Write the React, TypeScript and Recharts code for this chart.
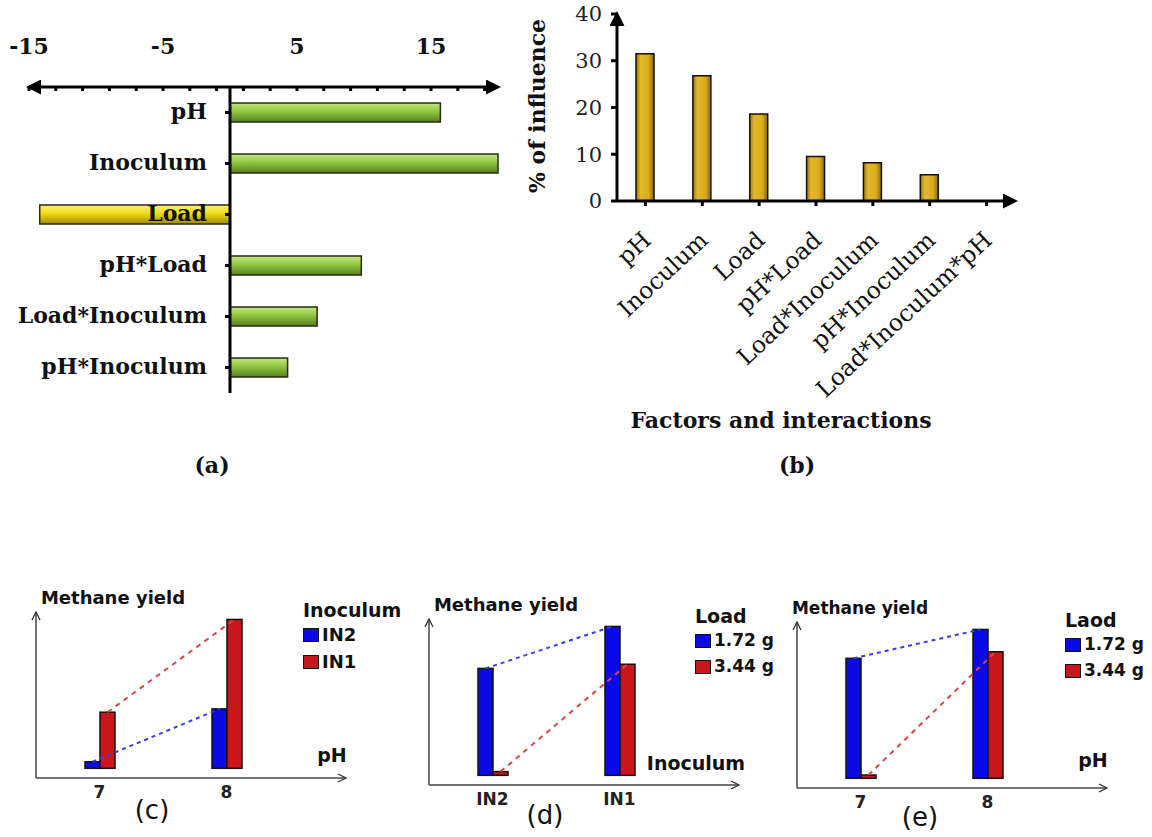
import { useRef } from "react";
import {
  BarChart,
  ComposedChart,
  Bar,
  Cell,
  XAxis,
  YAxis,
  ReferenceLine,
  LabelList,
} from "recharts";

// (a) effects of factors
const effectFactors = ["pH", "Inoculum", "Load", "pH*Load", "Load*Inoculum", "pH*Inoculum"];
const effectValues = [15.7, 20, -14.2, 9.8, 6.5, 4.3];
const effectTicks = [-15, -13, -11, -9, -7, -5, -3, -1, 1, 3, 5, 7, 9, 11, 13, 15, 17, 19];
const effectTickLabels = [-15, -5, 5, 15];

// (b) % of influence
const influenceFactors = ["pH", "Inoculum", "Load", "pH*Load", "Load*Inoculum", "pH*Inoculum", "Load*Inoculum*pH"];
const influenceValues = [31.5, 26.8, 18.6, 9.5, 8.2, 5.6, 0];
const influenceTicks = [0, 10, 20, 30, 40];

// (c)-(e) interaction plots (relative methane yield)
const phLevels = ["7", "8"];
const inoculumLevels = ["IN2", "IN1"];
const phIN2 = [4.4, 39.9];
const phIN1 = [37.7, 100];
const inocLoad172 = [71.8, 100];
const inocLoad344 = [2.5, 74.6];
const phLoad172 = [80.6, 100];
const phLoad344 = [2.2, 85];

const SERIF = "'DejaVu Serif', serif";
const SANS = "'DejaVu Sans', sans-serif";
const BLUE = "#0a0ae6";
const RED = "#c8171b";

const effectData = effectFactors.map((name, i) => ({ name, effect: effectValues[i] }));
const influenceData = influenceFactors.map((name, i) => ({ name, influence: influenceValues[i] }));

function Defs() {
  return (
    <svg width={0} height={0} style={{ position: "absolute" }}>
      <defs>
        <linearGradient id="greenBar" x1="0" y1="0" x2="0" y2="1">
          <stop offset="0%" stopColor="#c4e882" />
          <stop offset="40%" stopColor="#96cb45" />
          <stop offset="100%" stopColor="#55801c" />
        </linearGradient>
        <linearGradient id="yellowBar" x1="0" y1="0" x2="0" y2="1">
          <stop offset="0%" stopColor="#fff37a" />
          <stop offset="45%" stopColor="#f0da14" />
          <stop offset="100%" stopColor="#a08a0c" />
        </linearGradient>
        <linearGradient id="goldBar" x1="0" y1="0" x2="1" y2="0">
          <stop offset="0%" stopColor="#9a740e" />
          <stop offset="25%" stopColor="#e2b82a" />
          <stop offset="70%" stopColor="#d9ac20" />
          <stop offset="100%" stopColor="#8c680c" />
        </linearGradient>
        <marker id="arrowFill" viewBox="0 0 10 10" refX="8" refY="5" markerWidth="5" markerHeight="5" orient="auto-start-reverse">
          <path d="M0,0 L10,5 L0,10 z" fill="#000" />
        </marker>
        <marker id="arrowOpen" viewBox="0 0 10 10" refX="9" refY="5" markerWidth="10" markerHeight="10" markerUnits="userSpaceOnUse" orient="auto-start-reverse">
          <path d="M1,1 L9,5 L1,9" fill="none" stroke="#333" strokeWidth="1.3" />
        </marker>
      </defs>
    </svg>
  );
}

function Txt({ x, y, size, bold, family, rotate, children }: any) {
  return (
    <div
      style={{
        position: "absolute",
        left: x,
        top: y,
        transform: `translate(-50%, -50%)${rotate ? ` rotate(${rotate}deg)` : ""}`,
        fontSize: size,
        fontWeight: bold ? 700 : 400,
        fontFamily: family,
        color: "#111",
        whiteSpace: "nowrap",
        lineHeight: 1,
      }}
    >
      {children}
    </div>
  );
}

const EffectTick = ({ x, y, payload }: any) => (
  <g>
    <line x1={x} x2={x} y1={y + 33} y2={y + 37} stroke="#000" strokeWidth={3} />
    {effectTickLabels.includes(payload.value) && (
      <text x={x} y={y} textAnchor="middle" fontSize={22} fontWeight={700} fontFamily={SERIF} fill="#111">
        {payload.value}
      </text>
    )}
  </g>
);

const FactorLabel = (props: any) => {
  const vb = props.viewBox ?? props;
  const idx = props.index ?? 0;
  const x0 = Math.min(vb.x, vb.x + vb.width);
  const x1 = Math.max(vb.x, vb.x + vb.width);
  const zeroX = effectValues[idx] >= 0 ? x0 : x1;
  const cy = vb.y + vb.height / 2;
  return (
    <g>
      <line x1={zeroX - 5} x2={zeroX} y1={cy} y2={cy} stroke="#000" strokeWidth={3} />
      <text x={zeroX - 23} y={cy} dy="0.3em" textAnchor="end" fontSize={22} fontWeight={700} fontFamily={SERIF} fill="#111">
        {effectFactors[idx]}
      </text>
    </g>
  );
};

const InfluenceTick = ({ x, y, payload }: any) => (
  <text
    x={x + 7}
    y={y + 34}
    transform={`rotate(-43, ${x + 7}, ${y + 34})`}
    textAnchor="end"
    fontSize={23.5}
    fontFamily={SERIF}
    fill="#111"
  >
    {payload.value}
  </text>
);

function InteractionPanel({ left, top, width, margin, levels, blue, red }: any) {
  const tops = useRef<{ blue: any[]; red: any[] }>({ blue: [], red: [] });
  const data = levels.map((level: string, i: number) => ({ level, blue: blue[i], red: red[i] }));
  const last = levels.length - 1;

  const blueShape = (p: any) => {
    tops.current.blue[p.index] = { x: p.x + p.width / 2, y: p.y };
    return <rect x={p.x} y={p.y} width={p.width} height={p.height} fill={BLUE} stroke="#111" strokeWidth={1.5} />;
  };
  const redShape = (p: any) => {
    tops.current.red[p.index] = { x: p.x + p.width / 2, y: p.y };
    const b = tops.current.blue;
    const r = tops.current.red;
    return (
      <g>
        <rect x={p.x} y={p.y} width={p.width} height={p.height} fill={RED} stroke="#111" strokeWidth={1.5} />
        {p.index === last && b[0] && b[last] && (
          <line x1={b[0].x} y1={b[0].y} x2={b[last].x} y2={b[last].y} stroke="#3c3ce0" strokeWidth={2} strokeDasharray="4 4" />
        )}
        {p.index === last && r[0] && (
          <line x1={r[0].x} y1={r[0].y} x2={r[last].x} y2={r[last].y} stroke="#d44848" strokeWidth={2} strokeDasharray="5 5" />
        )}
      </g>
    );
  };

  return (
    <div style={{ position: "absolute", left, top }}>
      <ComposedChart width={width} height={240} data={data} margin={margin} barGap={0}>
        <XAxis
          dataKey="level"
          height={30}
          padding={{ left: 0, right: 56 }}
          tickLine={false}
          tickSize={0}
          tickMargin={8}
          tick={{ fontSize: 17, fontWeight: 700, fontFamily: SANS, fill: "#222" }}
          axisLine={{ stroke: "#444", strokeWidth: 1.5, markerEnd: "url(#arrowOpen)" }}
        />
        <YAxis
          domain={[-6.5, 105]}
          width={2}
          tick={false}
          tickLine={false}
          axisLine={{ stroke: "#444", strokeWidth: 1.5, markerStart: "url(#arrowOpen)" }}
        />
        <Bar dataKey="blue" barSize={15} shape={blueShape} isAnimationActive={false} />
        <Bar dataKey="red" barSize={15} shape={redShape} isAnimationActive={false} />
      </ComposedChart>
    </div>
  );
}

function LegendBox({ x, y, title, items, size }: any) {
  return (
    <div style={{ position: "absolute", left: x, top: y, fontFamily: SANS, fontWeight: 700, color: "#111", lineHeight: 1 }}>
      <div style={{ fontSize: 19, marginBottom: 6 }}>{title}</div>
      {items.map((it: any) => (
        <div key={it.label} style={{ display: "flex", alignItems: "center", fontSize: size, marginBottom: 9 }}>
          <span style={{ width: 14, height: 12, background: it.color, border: "1.5px solid #111", marginRight: 3 }} />
          {it.label}
        </div>
      ))}
    </div>
  );
}

export default function App() {
  return (
    <div style={{ position: "absolute", left: 0, top: 0, width: 1152, height: 837, background: "#fff", overflow: "hidden" }}>
      <Defs />

      {/* (a) */}
      <div style={{ position: "absolute", left: 0, top: 0 }}>
        <BarChart width={520} height={400} layout="vertical" data={effectData} margin={{ top: 47, right: 22, left: 29, bottom: 7 }}>
          <XAxis
            type="number"
            orientation="top"
            height={40}
            domain={[-15, 20]}
            ticks={effectTicks}
            interval={0}
            tickLine={false}
            tickSize={4}
            tickMargin={29}
            tick={<EffectTick />}
            axisLine={{ stroke: "#000", strokeWidth: 3, markerStart: "url(#arrowFill)", markerEnd: "url(#arrowFill)" }}
          />
          <YAxis type="category" dataKey="name" hide />
          <Bar dataKey="effect" barSize={19} stroke="#2a2a1a" strokeWidth={1.5} isAnimationActive={false}>
            {effectData.map((d) => (
              <Cell key={d.name} fill={d.effect < 0 ? "url(#yellowBar)" : "url(#greenBar)"} />
            ))}
            <LabelList dataKey="name" content={FactorLabel} />
          </Bar>
          <ReferenceLine x={0} stroke="#000" strokeWidth={3} />
        </BarChart>
      </div>
      <Txt x={212} y={465} size={22} bold family={SERIF}>(a)</Txt>

      {/* (b) */}
      <div style={{ position: "absolute", left: 520, top: 0 }}>
        <BarChart width={520} height={450} data={influenceData} margin={{ top: 14, right: 25, left: 37, bottom: 0 }}>
          <XAxis
            dataKey="name"
            height={249}
            interval={0}
            tickSize={5}
            tickLine={{ stroke: "#000", strokeWidth: 3 }}
            tick={<InfluenceTick />}
            axisLine={{ stroke: "#000", strokeWidth: 3, markerEnd: "url(#arrowFill)" }}
          />
          <YAxis
            width={60}
            domain={[0, 40]}
            ticks={influenceTicks}
            tickSize={6}
            tickMargin={9}
            tickLine={{ stroke: "#000", strokeWidth: 3 }}
            tick={{ fontSize: 21, fontFamily: SERIF, fill: "#222" }}
            axisLine={{ stroke: "#000", strokeWidth: 3, markerStart: "url(#arrowFill)" }}
          />
          <Bar dataKey="influence" barSize={18} fill="url(#goldBar)" stroke="#111" strokeWidth={1.5} isAnimationActive={false} />
        </BarChart>
      </div>
      <Txt x={537} y={106} size={22} bold family={SERIF} rotate={-90}>% of influence</Txt>
      <Txt x={781} y={420} size={22} bold family={SERIF}>Factors and interactions</Txt>
      <Txt x={797} y={465} size={22} bold family={SERIF}>(b)</Txt>

      {/* (c) */}
      <InteractionPanel left={0} top={590} width={420} margin={{ top: 22, right: 74, left: 34, bottom: 22 }} levels={phLevels} blue={phIN2} red={phIN1} />
      <Txt x={113} y={598} size={18} bold family={SANS}>Methane yield</Txt>
      <Txt x={332} y={755} size={19} bold family={SANS}>pH</Txt>
      <Txt x={152} y={810} size={26} family={SANS}>(c)</Txt>
      <LegendBox x={303} y={601} title="Inoculum" size={18} items={[{ label: "IN2", color: BLUE }, { label: "IN1", color: RED }]} />

      {/* (d) */}
      <InteractionPanel left={400} top={590} width={380} margin={{ top: 29, right: 41, left: 27, bottom: 15 }} levels={inoculumLevels} blue={inocLoad172} red={inocLoad344} />
      <Txt x={506} y={605} size={18} bold family={SANS}>Methane yield</Txt>
      <Txt x={696} y={763} size={19} bold family={SANS}>Inoculum</Txt>
      <Txt x={545} y={815} size={26} family={SANS}>(d)</Txt>
      <LegendBox x={695} y={607} title="Load" size={17} items={[{ label: "1.72 g", color: BLUE }, { label: "3.44 g", color: RED }]} />

      {/* (e) */}
      <InteractionPanel left={770} top={590} width={382} margin={{ top: 32, right: 45, left: 25, bottom: 12 }} levels={phLevels} blue={phLoad172} red={phLoad344} />
      <Txt x={860} y={608} size={17} bold family={SANS}>Methane yield</Txt>
      <Txt x={1093} y={760} size={19} bold family={SANS}>pH</Txt>
      <Txt x={920} y={817} size={26} family={SANS}>(e)</Txt>
      <LegendBox x={1065} y={611} title="Laod" size={17} items={[{ label: "1.72 g", color: BLUE }, { label: "3.44 g", color: RED }]} />
    </div>
  );
}
